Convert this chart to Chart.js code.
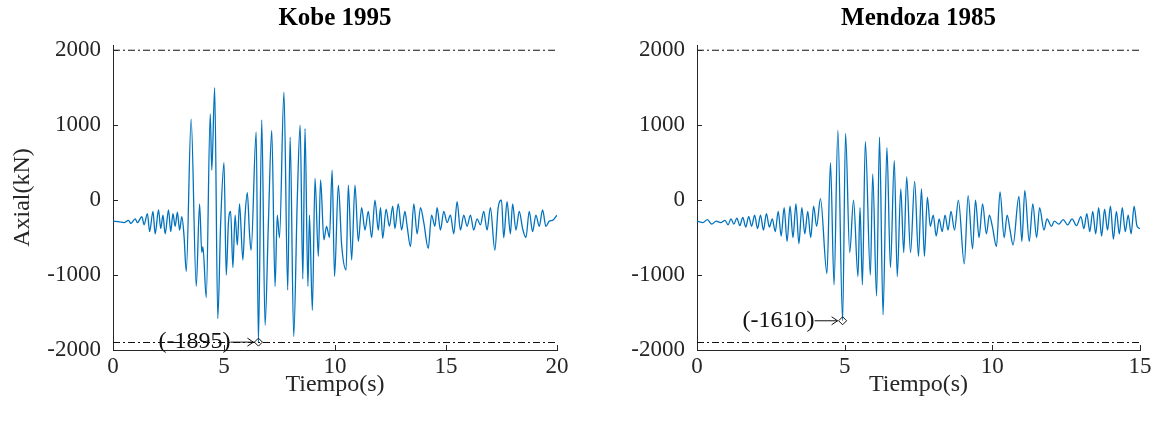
<!DOCTYPE html>
<html>
<head>
<meta charset="utf-8">
<script src="https://cdn.jsdelivr.net/npm/chart.js@4.4.1/dist/chart.umd.min.js"></script>
<style>
  html, body { margin: 0; padding: 0; background: #fff; }
  #wrap { position: relative; width: 1157px; height: 423px; overflow: hidden; }
  canvas { position: absolute; top: 0; }
</style>
</head>
<body>
<div id="wrap">
  <canvas id="kobeChart" width="580" height="423" style="left:0"></canvas>
  <canvas id="mendozaChart" width="577" height="423" style="left:580px"></canvas>
</div>
<script>
// Kobe 1995 - axial force (kN) vs time (s)
const kobeTime = [0.0, 0.3, 0.5, 0.7, 0.8, 1.0, 1.1, 1.3, 1.4, 1.55, 1.65, 1.8, 1.9, 2.05, 2.15, 2.25, 2.35, 2.5, 2.6, 2.7, 2.8, 2.9, 3.0, 3.1, 3.2,
  3.3, 3.52, 3.75, 3.9, 4.0, 4.05, 4.2, 4.38, 4.45, 4.58, 4.72, 4.85, 5.0, 5.1, 5.2, 5.3, 5.4, 5.5, 5.6, 5.7, 5.85, 5.95, 6.05, 6.15, 6.22,
  6.45, 6.55, 6.7, 6.85, 7.0, 7.15, 7.3, 7.4, 7.5, 7.7, 7.87, 7.98, 8.14, 8.3, 8.43, 8.55, 8.65, 8.78, 8.85, 8.98, 9.1, 9.25, 9.35, 9.5,
  9.62, 9.75, 9.87, 9.98, 10.15, 10.3, 10.5, 10.6, 10.75, 10.9, 11.05, 11.2, 11.35, 11.5, 11.65, 11.8, 11.95, 12.05, 12.15, 12.3, 12.45,
  12.6, 12.7, 12.85, 13.0, 13.15, 13.25, 13.4, 13.55, 13.7, 13.85, 14.0, 14.2, 14.35, 14.5, 14.6, 14.75, 14.9, 15.05, 15.2, 15.35, 15.5,
  15.65, 15.8, 15.95, 16.1, 16.25, 16.4, 16.55, 16.7, 16.85, 17.0, 17.2, 17.35, 17.5, 17.6, 17.75, 17.9, 18.0, 18.15, 18.3, 18.45, 18.6,
  18.75, 18.9, 19.05, 19.2, 19.35, 19.5, 19.65, 19.8, 20.0];
const kobeAxial = [-280, -290, -300, -270, -310, -250, -300, -220, -330, -180, -420, -150, -450, -130, -380, -200, -450, -130, -420, -180, -350, -160, -400, -220, -480,
  -950, 1080, -1150, -50, -700, -620, -1300, 1150, 400, 1500, -1580, -300, 500, -1000, -300, -150, -900, -200, -600, -50, -800, -200, 100, -450, -670,
  910, -1895, 1070, -1670, -300, 930, -1150, -200, -500, 1440, -1200, 840, -1820, 0, 1000, -1050, 955, -1150, -200, -1470, 290, -750, 270, -530,
  -350, -500, 400, -1020, 200, -600, -930, 200, -800, 200, -550, -100, -400, -150, -500, 0, -400, -100, -510, -120, -350,
  -80, -380, -50, -400, -150, -350, -620, -50, -450, -100, -300, -645, -200, -350, -100, -400, -150, -300, -200, -450, -20,
  -400, -200, -350, -200, -400, -250, -330, -150, -400, -100, -670, -100, 0, -500, -20, -450, -50, -400, -150, -380, -500,
  -150, -420, -200, -350, -130, -350, -280, -270, -200];

// Mendoza 1985
const mendozaTime = [0.0, 0.2, 0.35, 0.5, 0.65, 0.8, 0.95, 1.05, 1.15, 1.25, 1.35, 1.45, 1.55, 1.65, 1.75, 1.85, 1.95, 2.05, 2.15, 2.25, 2.35, 2.45,
  2.55, 2.65, 2.75, 2.85, 2.95, 3.05, 3.15, 3.25, 3.35, 3.45, 3.55, 3.65, 3.75, 3.85, 3.95, 4.05, 4.18, 4.4, 4.52, 4.64, 4.77, 4.93, 5.03,
  5.17, 5.3, 5.45, 5.52, 5.6, 5.7, 5.87, 5.95, 6.08, 6.18, 6.3, 6.43, 6.55, 6.68, 6.78, 6.9, 7.0, 7.1, 7.23, 7.37, 7.5, 7.6, 7.7, 7.8, 7.9,
  8.0, 8.1, 8.2, 8.3, 8.4, 8.5, 8.6, 8.72, 8.85, 9.05, 9.18, 9.33, 9.43, 9.55, 9.67, 9.8, 9.9, 10.0, 10.14, 10.26, 10.4, 10.5, 10.6, 10.7,
  10.9, 11.0, 11.1, 11.25, 11.37, 11.5, 11.6, 11.75, 11.85, 12.0, 12.1, 12.25, 12.4, 12.55, 12.7, 12.85, 13.0, 13.1, 13.2, 13.3, 13.4, 13.5,
  13.6, 13.7, 13.8, 13.9, 14.0, 14.1, 14.2, 14.3, 14.4, 14.5, 14.6, 14.7, 14.8, 14.9, 15.0];
const mendozaAxial = [-280, -300, -260, -320, -280, -300, -270, -330, -250, -320, -240, -340, -230, -360, -220, -350, -200, -380, -200, -400, -180, -360,
  -250, -420, -150, -480, -100, -550, -80, -500, -50, -580, -100, -450, -150, -500, -80, -350, 20, -980, 500, -1130, 930, -1610, 890,
  -700, 0, -1020, -100, -1130, 780, -1000, 350, -1280, 840, -1530, 700, -900, 530, -1020, 150, -700, 310, -700, 250, -750, 150, -750, 40, -350,
  -200, -480, -250, -420, -200, -400, -150, -400, 0, -850, 60, -650, 0, -500, -50, -450, -200, -350, -620, 110, -500, -200, -400, -600,
  50, -550, 130, -550, -50, -500, -100, -400, -250, -350, -280, -320, -260, -330, -250, -340, -220, -380, -180, -420, -150, -450,
  -100, -480, -120, -400, -80, -520, -150, -450, -100, -420, -200, -450, -80, -350, -380];

const yTicks = [-2000, -1000, 0, 1000, 2000];
const kobeXTicks = [0, 5, 10, 15, 20];
const mendozaXTicks = [0, 5, 10, 15];
const limitLines = [2000, -1900];
const kobePeak = [6.55, -1895];
const mendozaPeak = [4.93, -1610];

const SERIF = "'Liberation Serif', 'Times New Roman', serif";
const TEXT = "#262626";

// inward tick marks (MATLAB style) + peak annotation text with arrow
const decorPlugin = {
  id: "decor",
  afterDatasetsDraw(chart, args, opts) {
    const { ctx, chartArea } = chart;
    const xs = chart.scales.x, ys = chart.scales.y;
    ctx.save();
    ctx.strokeStyle = TEXT;
    ctx.lineWidth = 1;
    ctx.beginPath();
    opts.xTicks.forEach(v => {
      const px = Math.round(xs.getPixelForValue(v)) + 0.5;
      ctx.moveTo(px, chartArea.bottom);
      ctx.lineTo(px, chartArea.bottom - 5);
    });
    yTicks.forEach(v => {
      const py = Math.round(ys.getPixelForValue(v)) + 0.5;
      ctx.moveTo(chartArea.left, py);
      ctx.lineTo(chartArea.left + 5, py);
    });
    ctx.stroke();

    const mx = xs.getPixelForValue(opts.peak[0]);
    const my = ys.getPixelForValue(opts.peak[1]);
    ctx.strokeStyle = "#111";
    ctx.beginPath();
    ctx.moveTo(mx - 28, my);
    ctx.lineTo(mx - 5, my);
    ctx.moveTo(mx - 11, my - 4);
    ctx.lineTo(mx - 5, my);
    ctx.lineTo(mx - 11, my + 4);
    ctx.stroke();
    ctx.fillStyle = "#111";
    ctx.font = "24px " + SERIF;
    ctx.textAlign = "right";
    ctx.textBaseline = "middle";
    ctx.fillText("(" + opts.peak[1] + ")", mx - 28, my);
    ctx.restore();
  }
};

function makeChart(id, title, times, values, xMax, xTicks, peak, showYTitle, padRight, yWidth) {
  const limitSets = limitLines.map(v => ({
    data: [{ x: 0, y: v }, { x: xMax, y: v }],
    borderColor: "#111",
    borderWidth: 1,
    borderDash: [7, 3, 2, 3],
    pointRadius: 0,
    order: 2
  }));
  return new Chart(document.getElementById(id), {
    type: "line",
    data: {
      datasets: [
        {
          data: times.map((t, i) => ({ x: t, y: values[i] })),
          borderColor: "#0072BD",
          borderWidth: 1.3,
          pointRadius: 0,
          cubicInterpolationMode: "monotone",
          order: 1
        },
        ...limitSets,
        {
          data: [{ x: peak[0], y: peak[1] }],
          showLine: false,
          pointStyle: "rectRot",
          pointRadius: 4,
          pointBorderColor: "#111",
          pointBackgroundColor: "rgba(0,0,0,0)",
          pointBorderWidth: 1,
          order: 0
        }
      ]
    },
    options: {
      responsive: false,
      animation: false,
      layout: { padding: { left: 4, right: padRight, top: 0, bottom: 20 } },
      plugins: {
        legend: { display: false },
        tooltip: { enabled: false },
        title: {
          display: true,
          text: title,
          fullSize: false,
          color: "#000",
          font: { family: SERIF, size: 25, weight: "bold" },
          padding: { top: 4, bottom: 11 }
        },
        decor: { xTicks: xTicks, peak: peak }
      },
      scales: {
        x: {
          type: "linear",
          min: 0,
          max: xMax,
          afterBuildTicks: s => { s.ticks = xTicks.map(v => ({ value: v })); },
          afterFit: s => { s.height = 53; },
          grid: { drawOnChartArea: false, drawTicks: false },
          border: { display: true, color: TEXT, width: 1 },
          ticks: { color: TEXT, padding: 3, font: { family: SERIF, size: 23 }, maxRotation: 0, callback: v => String(v) },
          title: { display: true, text: "Tiempo(s)", color: TEXT, font: { family: SERIF, size: 24 }, padding: 4 }
        },
        y: {
          min: -2000,
          max: 2070,
          afterBuildTicks: s => { s.ticks = yTicks.map(v => ({ value: v })); },
          afterFit: s => { s.width = yWidth; },
          grid: { drawOnChartArea: false, drawTicks: false },
          border: { display: true, color: TEXT, width: 1 },
          ticks: { color: TEXT, padding: 12, font: { family: SERIF, size: 23 }, callback: v => String(v) },
          title: { display: showYTitle, text: "Axial(kN)", color: TEXT, font: { family: SERIF, size: 24 }, padding: 4 }
        }
      }
    },
    plugins: [decorPlugin]
  });
}

makeChart("kobeChart", "Kobe 1995", kobeTime, kobeAxial, 20, kobeXTicks, kobePeak, true, 23, 109);
makeChart("mendozaChart", "Mendoza 1985", mendozaTime, mendozaAxial, 15, mendozaXTicks, mendozaPeak, false, 17, 113);
</script>
</body>
</html>
